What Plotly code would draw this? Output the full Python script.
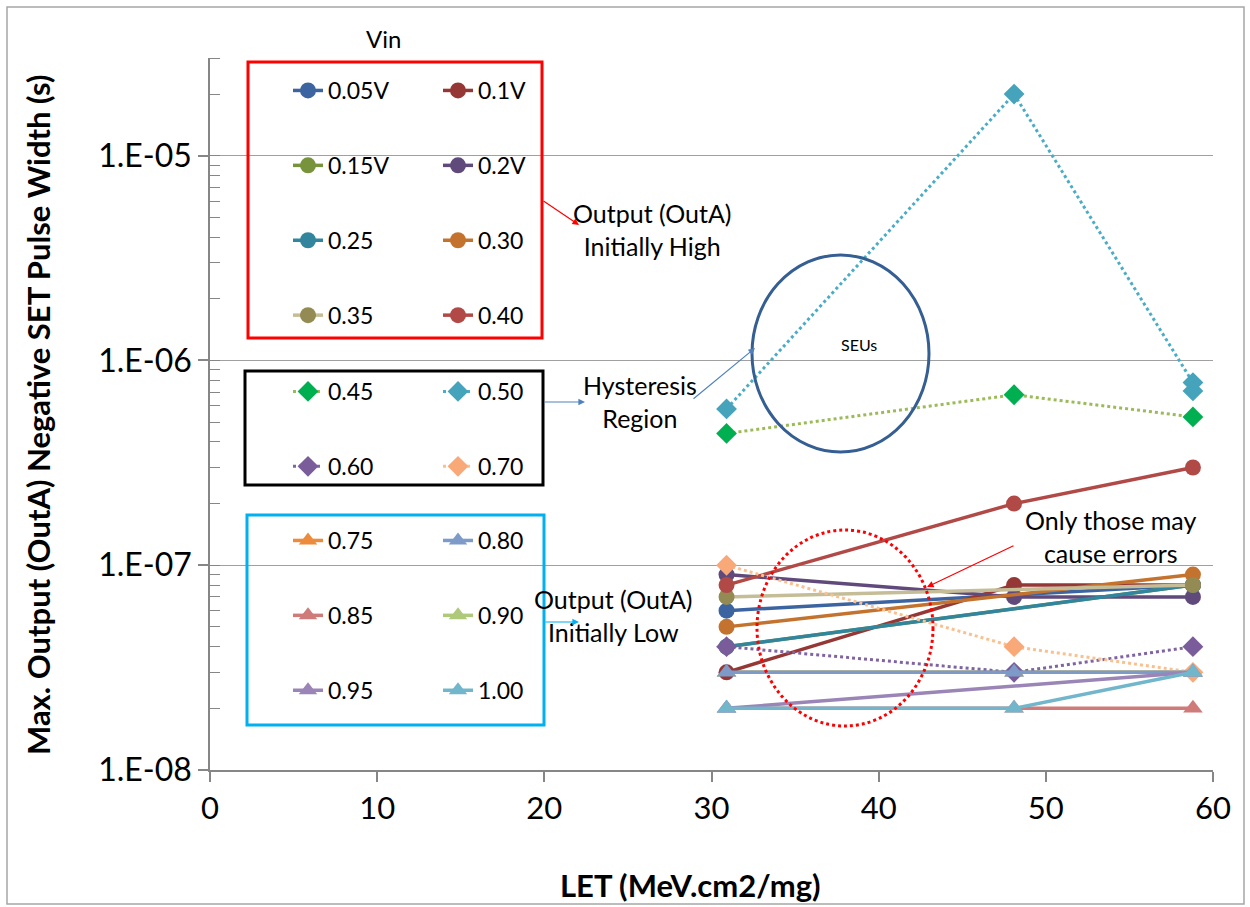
import plotly.graph_objects as go

# ---------------- data ----------------
x_full = [30.9, 48.1, 58.8]
x_ends = [30.9, 58.8]
x_050 = [30.9, 48.1, 58.8, 58.8]

y_005 = [6e-8, 8e-8]
y_010 = [3e-8, 8e-8, 8e-8]
y_015 = [4e-8, 8e-8]
y_020 = [9e-8, 7e-8, 7e-8]
y_025 = [4e-8, 8e-8]
y_030 = [5e-8, 9e-8]
y_035 = [7e-8, 8e-8]
y_040 = [8e-8, 2e-7, 3e-7]
y_045 = [4.4e-7, 6.8e-7, 5.3e-7]
y_050 = [5.8e-7, 2.0e-5, 7.8e-7, 7.1e-7]
y_060 = [4e-8, 3e-8, 4e-8]
y_070 = [1e-7, 4e-8, 3e-8]
y_075 = [3e-8, 3e-8, 3e-8]
y_080 = [3e-8, 3e-8, 3e-8]
y_085 = [2e-8, 2e-8, 2e-8]
y_090 = [3e-8, 3e-8, 3e-8]
y_095 = [2e-8, 3e-8]
y_100 = [2e-8, 2e-8, 3e-8]

y_tickvals = [1e-8, 1e-7, 1e-6, 1e-5]
y_ticktext = ["1.E-08", "1.E-07", "1.E-06", "1.E-05"]
x_tickvals = [0, 10, 20, 30, 40, 50, 60]

FONT = "Lato"

# ---------------- layout geometry helpers (pixel -> paper) ----------------
W, H = 1250, 907
L, R, T, B = 210, 37, 58, 137
PW, PH = W - L - R, H - T - B


def px(x):
    return (x - L) / PW


def py(y):
    return (H - B - y) / PH


fig = go.Figure()

# (name, x, y, line color, marker color, symbol, dash, legend, rank)
series = [
    ("0.75", x_full, y_075, "#ED8B3C", "#ED8B3C", "triangle-up", "solid", "legend5", 1),
    ("0.90", x_full, y_090, "#AFC97A", "#AFC97A", "triangle-up", "solid", "legend6", 2),
    ("0.05V", x_ends, y_005, "#3B64A0", "#3B64A0", "circle", "solid", "legend", 1),
    ("0.1V", x_full, y_010, "#953735", "#953735", "circle", "solid", "legend2", 1),
    ("0.15V", x_ends, y_015, "#77933C", "#77933C", "circle", "solid", "legend", 2),
    ("0.2V", x_full, y_020, "#604A7B", "#604A7B", "circle", "solid", "legend2", 2),
    ("0.25", x_ends, y_025, "#31859C", "#31859C", "circle", "solid", "legend", 3),
    ("0.30", x_ends, y_030, "#C4732F", "#C4732F", "circle", "solid", "legend2", 3),
    ("0.35", x_ends, y_035, "#C4BD97", "#948A54", "circle", "solid", "legend", 4),
    ("0.40", x_full, y_040, "#B14A47", "#B14A47", "circle", "solid", "legend2", 4),
    ("0.45", x_full, y_045, "#9BBB59", "#00B050", "diamond", "dot", "legend3", 1),
    ("0.50", x_050, y_050, "#4BACC6", "#46A3BC", "diamond", "dot", "legend4", 1),
    ("0.60", x_full, y_060, "#8064A2", "#7A5C9A", "diamond", "dot", "legend3", 2),
    ("0.70", x_full, y_070, "#FAC090", "#F9A878", "diamond", "dot", "legend4", 2),
    ("0.80", x_full, y_080, "#7E9BC8", "#7E9BC8", "triangle-up", "solid", "legend6", 1),
    ("0.85", x_full, y_085, "#CF7B79", "#CF7B79", "triangle-up", "solid", "legend5", 2),
    ("0.95", x_ends, y_095, "#9A85B6", "#9A85B6", "triangle-up", "solid", "legend5", 3),
    ("1.00", x_full, y_100, "#72B6CC", "#72B6CC", "triangle-up", "solid", "legend6", 3),
]

for name, xs, ys, lc, mc, sym, dash, leg, rank in series:
    msize = 16 if sym != "triangle-up" else 17
    fig.add_trace(go.Scatter(
        x=xs, y=ys, name=name, mode="lines+markers",
        line=dict(color=lc, width=3.5 if dash == "solid" else 3, dash=dash),
        marker=dict(color=mc, size=msize, symbol=sym, line=dict(width=0)),
        legend=leg, legendrank=rank, legendgroup=name,
    ))

GAP = 42
leg_common = dict(bgcolor="rgba(0,0,0,0)", borderwidth=0, font=dict(family=FONT, size=23, color="black"),
                  tracegroupgap=GAP, itemwidth=30, xanchor="left", yanchor="top", orientation="v")

legends = {
    "legend": (288, 69),
    "legend2": (438, 69),
    "legend3": (288, 370),
    "legend4": (438, 370),
    "legend5": (288, 519),
    "legend6": (438, 519),
}
leg_layout = {}
for k, (lx, ly) in legends.items():
    leg_layout[k] = dict(leg_common, x=px(lx), y=py(ly))

shapes = []
# legend boxes
shapes.append(dict(type="rect", xref="paper", yref="paper", x0=px(248), x1=px(542), y0=py(338), y1=py(62),
                   line=dict(color="#FF0000", width=3)))
shapes.append(dict(type="rect", xref="paper", yref="paper", x0=px(245), x1=px(543), y0=py(485), y1=py(371),
                   line=dict(color="#000000", width=3)))
shapes.append(dict(type="rect", xref="paper", yref="paper", x0=px(247), x1=px(544), y0=py(725), y1=py(515),
                   line=dict(color="#00B0F0", width=3)))
# SEU circle
shapes.append(dict(type="circle", xref="paper", yref="paper", x0=px(752), x1=px(929), y0=py(452), y1=py(255),
                   line=dict(color="#355E93", width=3)))
# red dotted ellipse
shapes.append(dict(type="circle", xref="paper", yref="paper", x0=px(757), x1=px(933), y0=py(726), y1=py(530),
                   line=dict(color="#FF0000", width=3, dash="dot")))
# outer chart frame
shapes.append(dict(type="rect", xref="paper", yref="paper", x0=px(7), x1=px(1244), y0=py(904), y1=py(7),
                   line=dict(color="#A6A6A6", width=1.5), layer="below"))

ann = []


def text(x, y, t, size=22, bold=False, angle=0):
    ann.append(dict(xref="paper", yref="paper", x=px(x), y=py(y), text=("<b>%s</b>" % t) if bold else t,
                    showarrow=False, xanchor="center", yanchor="middle", textangle=angle,
                    font=dict(family=FONT, size=size, color="black")))


def arrow(x0, y0, x1, y1, color):
    ann.append(dict(xref="paper", yref="paper", x=px(x1), y=py(y1), ax=x0 - x1, ay=y0 - y1,
                    axref="pixel", ayref="pixel", text="", showarrow=True, arrowhead=2,
                    arrowsize=1.1, arrowwidth=1.2, arrowcolor=color))


text(383, 38, "Vin", 24)
text(652, 229, "Output (OutA)<br>Initially High", 25)
text(640, 401, "Hysteresis<br>Region", 25)
text(613, 615, "Output (OutA)<br>Initially Low", 25)
text(1110, 536, "Only those may<br>cause errors", 25)
text(859, 345, "SEUs", 16)
text(690, 885, "LET (MeV.cm2/mg)", 31, bold=True)
text(38, 415, "Max. Output (OutA) Negative SET Pulse Width (s)", 31, bold=True, angle=-90)

arrow(542, 200, 579, 225, "#FF0000")
arrow(543, 402, 585, 402, "#4F81BD")
arrow(692, 400, 755, 348, "#4F81BD")
arrow(544, 622, 579, 622, "#00B0F0")
arrow(1015, 545, 927, 587, "#FF0000")

fig.update_layout(
    width=W, height=H,
    margin=dict(l=L, r=R, t=T, b=B, pad=0),
    paper_bgcolor="white", plot_bgcolor="white",
    font=dict(family=FONT, color="black"),
    shapes=shapes, annotations=ann,
    **leg_layout,
)

fig.update_xaxes(
    range=[0, 60], tickvals=x_tickvals, showgrid=False, zeroline=False,
    showline=True, linecolor="#868686", linewidth=1.5,
    ticks="outside", ticklen=10, tickcolor="#868686", tickwidth=1.5,
    tickfont=dict(family=FONT, size=31, color="black"),
)
fig.update_yaxes(
    type="log", range=[-8, 4.4771 - 9], tickvals=y_tickvals, ticktext=y_ticktext,
    showgrid=True, gridcolor="#A0A0A0", gridwidth=1.2, zeroline=False,
    showline=True, linecolor="#868686", linewidth=1.5,
    ticks="outside", ticklen=10, tickcolor="#868686", tickwidth=1.5,
    tickfont=dict(family=FONT, size=32, color="black"),
    minor=dict(ticks="inside", ticklen=10, tickcolor="#868686", tickwidth=1.2, dtick="D1", showgrid=False),
)

fig.write_html("out.html")
